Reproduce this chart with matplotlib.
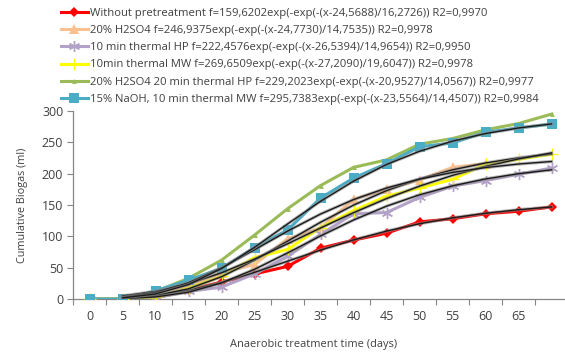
import numpy as np
import matplotlib.pyplot as plt
import matplotlib.patheffects as pe

plt.rcParams['font.family'] = ['Open Sans', 'DejaVu Sans']

# sampling days (one category every 5 days)
days = [0, 5, 10, 15, 20, 25, 30, 35, 40, 45, 50, 55, 60, 65, 70]
tick_labels = ['0', '5', '10', '15', '20', '25', '30', '35', '40', '45',
               '50', '55', '60', '65', '']

# cumulative biogas (ml) per pretreatment
no_pretreat   = [0, 0, 2, 14, 27, 40, 52, 81, 94, 105, 123, 128, 136, 140, 147]
h2so4_20      = [0, 0, 3, 20, 42, 55, 96, 113, 159, 175, 190, 210, 216]
thermal_hp_10 = [0, 0, 2, 12, 19, 40, 68, 103, 136, 138, 162, 180, 189, 199, 209]
thermal_mw_10 = [0, 0, 3, 17, 36, 66, 79, 114, 141, 164, 177, 191, 215, 223, 231]
h2so4_hp_20   = [0, 0, 12, 33, 62, 102, 144, 181, 210, 222, 247, 256, 270, 280, 295]
naoh_mw_15    = [0, 0, 13, 30, 49, 82, 110, 161, 193, 216, 243, 249, 266, 273, 279]

# modified Gompertz fits: f = A*exp(-exp(-(x-B)/C))
fit_A = [159.6202, 246.9375, 222.4576, 269.6509, 229.2023, 295.7383]
fit_B = [24.5688, 24.7730, 26.5394, 27.2090, 20.9527, 23.5564]
fit_C = [16.2726, 14.7535, 14.9654, 19.6047, 14.0567, 14.4507]
fit_R2 = ['0,9970', '0,9978', '0,9950', '0,9978', '0,9977', '0,9984']
fit_x = [0, 5, 10, 15, 20, 25, 30, 35, 40, 45, 50, 55, 60, 65]

names = ['Without pretreatment', '20% H2SO4', '10 min thermal HP',
         '10min thermal MW', '20% H2SO4 20 min thermal HP',
         '15% NaOH, 10 min thermal MW']
series = [no_pretreat, h2so4_20, thermal_hp_10, thermal_mw_10,
          h2so4_hp_20, naoh_mw_15]

styles = [
    dict(color='#ff0000', marker='D', ms=5.5, mew=0),
    dict(color='#fac090', marker='^', ms=6.5, mew=0),
    dict(color='#b3a2c7', marker=(6, 2, 0), ms=8, mew=1.0),
    dict(color='#ffff00', marker='+', ms=9, mew=0.9),
    dict(color='#9bbb59', marker='^', ms=3.5, mew=0),
    dict(color='#4bacc6', marker='s', ms=7.5, mew=0),
]
TXT = '#404040'


def fmt(v):
    return f'{v:.4f}'.replace('.', ',')


fig = plt.figure(figsize=(5.65, 3.54), dpi=100)
ax = fig.add_axes([73 / 565, 55 / 354, 495 / 565, 188 / 354])

handles = []
for name, vals, st, A, B, C, r2 in zip(names, series, styles,
                                       fit_A, fit_B, fit_C, fit_R2):
    pos = np.arange(len(vals))
    h, = ax.plot(pos, vals, lw=2.2, color=st['color'], marker=st['marker'],
                 ms=st['ms'], mew=st['mew'], mec=st['color'], mfc=st['color'],
                 zorder=3)
    h.set_label(f'{name} f={fmt(A)}exp(-exp(-(x-{fmt(B)})/{fmt(C)})) R2={r2}')
    handles.append(h)

# fitted curves, plotted from the 5-day category onward
for A, B, C in zip(fit_A, fit_B, fit_C):
    x = np.array(fit_x, dtype=float)
    y = A * np.exp(-np.exp(-(x - B) / C))
    ax.plot(np.arange(1, len(x) + 1), y, color='#1a1a1a', lw=1.0, zorder=4,
            path_effects=[pe.Stroke(linewidth=2.4, foreground='#8c8c8c', alpha=0.6),
                          pe.Normal()])

ax.set_xlim(-0.5, 14.5)
ax.set_ylim(0, 300)
ax.set_yticks(range(0, 301, 50))
ax.set_xticks(np.arange(-0.5, 15, 1))
ax.set_xticklabels([])
ax.set_xticks(np.arange(len(days)), minor=True)
ax.set_xticklabels(tick_labels, minor=True)
ax.tick_params(axis='x', which='major', length=4, color='#868686', direction='out')
ax.tick_params(axis='x', which='minor', length=0, pad=8, labelsize=9, labelcolor=TXT)
ax.tick_params(axis='y', length=4, color='#868686', labelsize=9, labelcolor=TXT, pad=3)
for s in ['top', 'right']:
    ax.spines[s].set_visible(False)
for s in ['left', 'bottom']:
    ax.spines[s].set_color('#868686')
    ax.spines[s].set_linewidth(0.9)

ax.set_ylabel('Cumulative Biogas (ml)', fontsize=7.8, color=TXT)
ax.yaxis.set_label_coords(-0.091, 0.5)
fig.text(314 / 565, 1 - 344 / 354, 'Anaerobic treatment time (days)',
         fontsize=7.9, color=TXT, ha='center', va='center')

fig.legend(handles=handles, loc='upper left', bbox_to_anchor=(56 / 565, 0.9895),
           frameon=False, fontsize=8.1, labelspacing=0.54, handlelength=2.4,
           handletextpad=0.18, borderaxespad=0, labelcolor=TXT)

fig.savefig('out.png', dpi=100, facecolor='white')
